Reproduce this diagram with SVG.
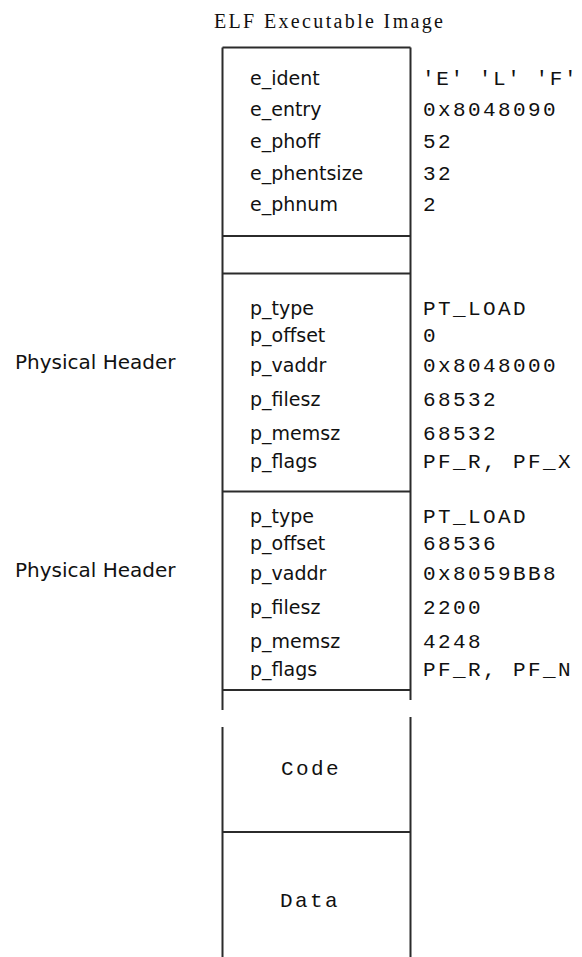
<svg xmlns="http://www.w3.org/2000/svg" width="582" height="957" viewBox="0 0 582 957">
<style>
.bg{fill:#ffffff}
.ln{stroke:#2b2b2b;stroke-width:2;fill:none}
.ttl{font-family:"Liberation Serif",serif;font-size:20px;fill:#111}
.lbl{font-family:"DejaVu Sans",sans-serif;font-size:19px;fill:#111}
.side{font-family:"DejaVu Sans",sans-serif;font-size:20px;fill:#111}
.val{font-family:"Liberation Mono",monospace;font-size:21px;letter-spacing:2.4px;fill:#111}
.tight{letter-spacing:1.6px}
</style>
<rect class="bg" x="0" y="0" width="582" height="957"/>
<text id="title" class="ttl" x="214" y="28" textLength="229">ELF Executable Image</text>
<g id="connectors">
<path class="ln" d="M222.5,47.5 V710 M222.5,727 V957 M410.5,47.5 V700 M410.5,717 V957 M222.5,47.5 H410.5"/>
</g>
<g id="elf-header">
<line class="ln" x1="222.5" y1="236" x2="410.5" y2="236"/>
<text class="lbl" x="250" y="85">e_ident</text>
<text class="lbl" x="250" y="116">e_entry</text>
<text class="lbl" x="250" y="147.5">e_phoff</text>
<text class="lbl" x="250" y="180">e_phentsize</text>
<text class="lbl" x="250" y="210.5">e_phnum</text>
<text class="val tight" x="422" y="85">'E' 'L' 'F'</text>
<text class="val" x="423" y="116">0x8048090</text>
<text class="val" x="423" y="147.5">52</text>
<text class="val" x="423" y="180">32</text>
<text class="val" x="423" y="210.5">2</text>
</g>
<g id="gap">
<line class="ln" x1="222.5" y1="273.5" x2="410.5" y2="273.5"/>
</g>
<g id="phdr1">
<line class="ln" x1="222.5" y1="491.5" x2="410.5" y2="491.5"/>
<text class="side" x="15" y="369">Physical Header</text>
<text class="lbl" x="250" y="314.5">p_type</text>
<text class="lbl" x="250" y="341.5">p_offset</text>
<text class="lbl" x="250" y="371.7">p_vaddr</text>
<text class="lbl" x="250" y="406">p_filesz</text>
<text class="lbl" x="250" y="440">p_memsz</text>
<text class="lbl" x="250" y="467.5">p_flags</text>
<text class="val" x="423" y="314.5">PT_LOAD</text>
<text class="val" x="423" y="341.5">0</text>
<text class="val" x="423" y="371.7">0x8048000</text>
<text class="val" x="423" y="406">68532</text>
<text class="val" x="423" y="440">68532</text>
<text class="val" x="423" y="467.5">PF_R, PF_X</text>
</g>
<g id="phdr2">
<line class="ln" x1="222.5" y1="690" x2="410.5" y2="690"/>
<text class="side" x="15" y="577">Physical Header</text>
<text class="lbl" x="250" y="522.5">p_type</text>
<text class="lbl" x="250" y="549.5">p_offset</text>
<text class="lbl" x="250" y="579.7">p_vaddr</text>
<text class="lbl" x="250" y="614">p_filesz</text>
<text class="lbl" x="250" y="648">p_memsz</text>
<text class="lbl" x="250" y="675.5">p_flags</text>
<text class="val" x="423" y="522.5">PT_LOAD</text>
<text class="val" x="423" y="549.5">68536</text>
<text class="val" x="423" y="579.7">0x8059BB8</text>
<text class="val" x="423" y="614">2200</text>
<text class="val" x="423" y="648">4248</text>
<text class="val" x="423" y="675.5">PF_R, PF_N</text>
</g>
<g id="code">
<line class="ln" x1="222.5" y1="832" x2="410.5" y2="832"/>
<text class="val" x="281" y="775">Code</text>
</g>
<g id="data">
<text class="val" x="280" y="906.5">Data</text>
</g>
</svg>
